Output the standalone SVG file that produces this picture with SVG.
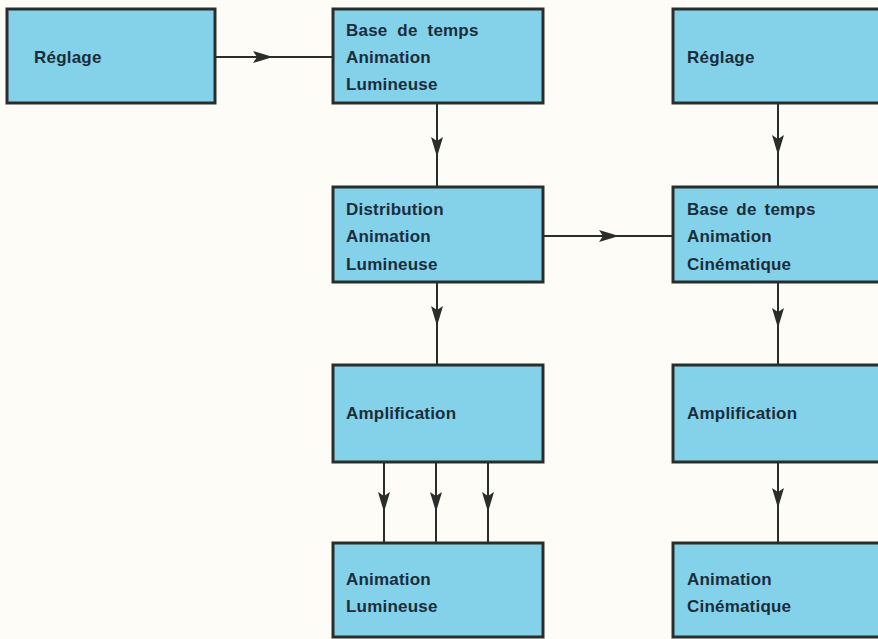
<svg xmlns="http://www.w3.org/2000/svg" width="878" height="639" viewBox="0 0 878 639">
<style>
.box{fill:#84d1ea;stroke:#2a2e2b;stroke-width:3}
.t{font-family:"Liberation Sans",Arial,sans-serif;font-weight:bold;font-size:17px;letter-spacing:0.2px;fill:#1a2d3a}
.c{fill:none;stroke:#2a2e2b;stroke-width:2;marker-mid:url(#ah)}
</style>
<defs>
<marker id="ah" markerUnits="userSpaceOnUse" markerWidth="24" markerHeight="14" viewBox="-22 -7 24 14" refX="0" refY="0" orient="auto" overflow="visible">
<path d="M0,0 L-20,-6 L-16,0 L-20,6 Z" fill="#2a2e2b"/>
</marker>
</defs>
<rect width="878" height="639" fill="#fdfcf7"/>
<g id="connectors">
<path class="c" d="M215,57 L273,57 L333,57"/>
<path class="c" d="M437,103 L437,157 L437,187"/>
<path class="c" d="M543,236 L619,236 L673,236"/>
<path class="c" d="M778,103 L778,155 L778,187"/>
<path class="c" d="M437,282 L437,326 L437,365"/>
<path class="c" d="M778,282 L778,328 L778,365"/>
<path class="c" d="M384,462 L384,512 L384,543"/>
<path class="c" d="M436,462 L436,512 L436,543"/>
<path class="c" d="M488,462 L488,512 L488,543"/>
<path class="c" d="M778,462 L778,508 L778,543"/>
</g>
<g id="reglage1"><rect class="box" x="7" y="9" width="208" height="94"/><text class="t" x="34" y="63">Réglage</text></g>
<g id="base1"><rect class="box" x="333" y="9" width="210" height="94"/><text class="t" x="346" y="36" word-spacing="5">Base de temps</text><text class="t" x="346" y="63">Animation</text><text class="t" x="346" y="90">Lumineuse</text></g>
<g id="reglage2"><rect class="box" x="673" y="9" width="215" height="94"/><text class="t" x="687" y="63">Réglage</text></g>
<g id="distribution"><rect class="box" x="333" y="187" width="210" height="95"/><text class="t" x="346" y="215">Distribution</text><text class="t" x="346" y="242">Animation</text><text class="t" x="346" y="270">Lumineuse</text></g>
<g id="base2"><rect class="box" x="673" y="187" width="215" height="95"/><text class="t" x="687" y="215" word-spacing="3">Base de temps</text><text class="t" x="687" y="242">Animation</text><text class="t" x="687" y="270">Cinématique</text></g>
<g id="ampli1"><rect class="box" x="333" y="365" width="210" height="97"/><text class="t" x="346" y="419">Amplification</text></g>
<g id="ampli2"><rect class="box" x="673" y="365" width="215" height="97"/><text class="t" x="687" y="419">Amplification</text></g>
<g id="anim1"><rect class="box" x="333" y="543" width="210" height="94"/><text class="t" x="346" y="585">Animation</text><text class="t" x="346" y="612">Lumineuse</text></g>
<g id="anim2"><rect class="box" x="673" y="543" width="215" height="94"/><text class="t" x="687" y="585">Animation</text><text class="t" x="687" y="612">Cinématique</text></g>
</svg>
